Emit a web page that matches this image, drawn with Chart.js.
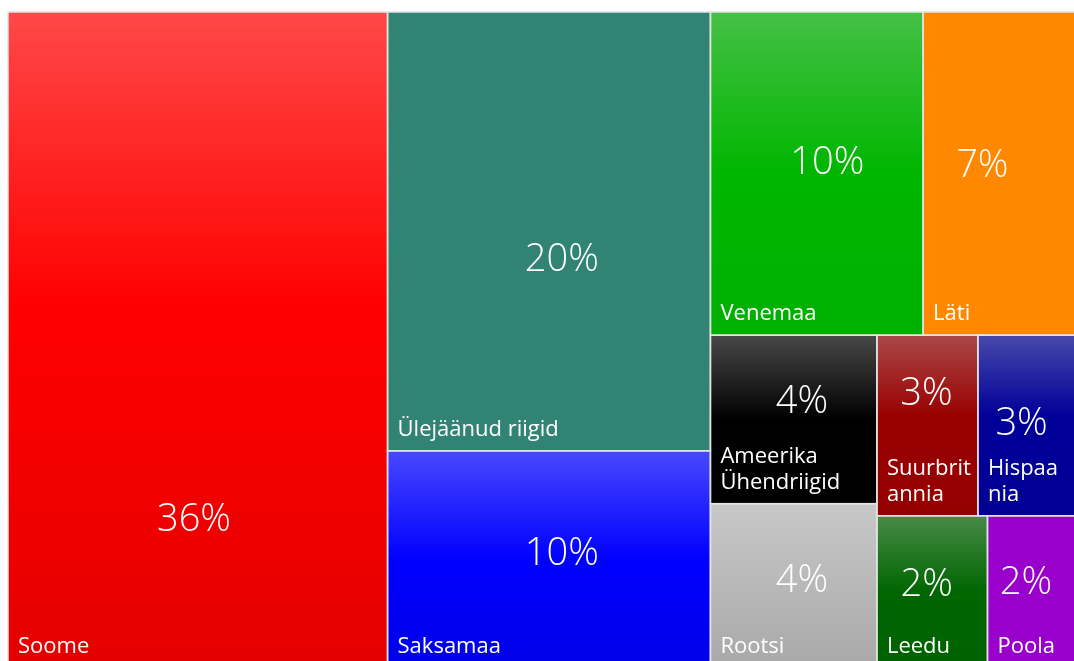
<!DOCTYPE html>
<html>
<head>
<meta charset="utf-8">
<script src="https://cdn.jsdelivr.net/npm/chart.js@4.4.1/dist/chart.umd.min.js"></script>
<style>
html,body{margin:0;padding:0;overflow:hidden;background:#ffffff;}
canvas{display:block;}
</style>
</head>
<body>
<canvas id="c" width="1075" height="668"></canvas>
<script>
// ---- data ----
const categories = ['Soome', 'Ülejäänud riigid', 'Saksamaa', 'Venemaa', 'Läti',
  'Ameerika Ühendriigid', 'Rootsi', 'Suurbritannia', 'Hispaania', 'Leedu', 'Poola'];
const shares = [35.5, 20.2, 10.0, 9.8, 7.0, 4.0, 3.9, 2.6, 2.5, 2.4, 1.9];

// ---- styles (gradient stops per cell: [offset, colour]) ----
const cellFills = [
  [[0, '#ff4848'], [0.45, '#ff0000'], [1, '#e40000']],
  [[0, '#318374'], [1, '#318374']],
  [[0, '#4848ff'], [0.5, '#0000ff'], [1, '#0000e8']],
  [[0, '#46c046'], [0.5, '#00b600'], [1, '#00b000']],
  [[0, '#ff8800'], [1, '#ff8800']],
  [[0, '#484848'], [0.5, '#000000'], [1, '#000000']],
  [[0, '#c8c8c8'], [1, '#a8a8a8']],
  [[0, '#aa4848'], [0.45, '#990000'], [1, '#940000']],
  [[0, '#4848aa'], [0.45, '#000099'], [1, '#000094']],
  [[0, '#478a47'], [0.5, '#006600'], [1, '#006200']],
  [[0, '#9900cc'], [1, '#9900cc']]
];
// where the percentage label sits inside its cell (fractions of width / height)
const pctAnchorX = [0.49, 0.54, 0.54, 0.55, 0.39, 0.55, 0.55, 0.49, 0.45, 0.45, 0.44];
const pctAnchorY = [0.77, 0.56, 0.465, 0.46, 0.47, 0.38, 0.455, 0.31, 0.48, 0.44, 0.425];

function squarify(vals, x0, y0, x1, y1, ratio) {
  const out = new Array(vals.length);
  const n = vals.length;
  let value = vals.reduce((a, b) => a + b, 0);
  let i0 = 0, i1 = 0;
  while (i0 < n) {
    const dx = x1 - x0, dy = y1 - y0;
    let sum = vals[i1++];
    let minV = sum, maxV = sum;
    const alpha = Math.max(dy / dx, dx / dy) / (value * ratio);
    let beta = sum * sum * alpha;
    let minRatio = Math.max(maxV / beta, beta / minV);
    for (; i1 < n; ++i1) {
      const v = vals[i1];
      sum += v;
      if (v < minV) minV = v;
      if (v > maxV) maxV = v;
      beta = sum * sum * alpha;
      const nr = Math.max(maxV / beta, beta / minV);
      if (nr > minRatio) { sum -= v; break; }
      minRatio = nr;
    }
    if (dx < dy) {
      const yk = i1 >= n ? y1 : y0 + dy * sum / value;
      let x = x0;
      for (let k = i0; k < i1; k++) {
        const xe = k === i1 - 1 ? x1 : x + dx * vals[k] / sum;
        out[k] = { x0: x, y0: y0, x1: xe, y1: yk };
        x = xe;
      }
      y0 = yk;
    } else {
      const xk = i1 >= n ? x1 : x0 + dx * sum / value;
      let y = y0;
      for (let k = i0; k < i1; k++) {
        const ye = k === i1 - 1 ? y1 : y + dy * vals[k] / sum;
        out[k] = { x0: x0, y0: y, x1: xk, y1: ye };
        y = ye;
      }
      x0 = xk;
    }
    value -= sum;
    i0 = i1;
  }
  return out;
}

function wrapText(ctx, text, maxW) {
  const words = text.split(' ');
  const lines = [];
  let cur = '';
  for (const w of words) {
    const t = cur ? cur + ' ' + w : w;
    if (ctx.measureText(t).width <= maxW) { cur = t; continue; }
    if (cur) { lines.push(cur); cur = ''; }
    if (ctx.measureText(w).width <= maxW) { cur = w; continue; }
    let part = '';
    for (const ch of w) {
      if (part && ctx.measureText(part + ch).width > maxW) { lines.push(part); part = ch; }
      else part += ch;
    }
    cur = part;
  }
  if (cur) lines.push(cur);
  return lines;
}

const treemapPlugin = {
  id: 'treemapCells',
  afterDatasetsDraw(chart) {
    const ds = chart.data.datasets[0];
    const vals = ds.tree;
    const total = vals.reduce((a, b) => a + b, 0);
    const xs = chart.scales.x, ys = chart.scales.y;
    const X0 = xs.getPixelForValue(0), X1 = xs.getPixelForValue(100);
    const Y0 = ys.getPixelForValue(100), Y1 = ys.getPixelForValue(0);
    const rects = squarify(vals, X0, Y0, X1, Y1, 1.1);
    const ctx = chart.ctx;
    ctx.save();
    rects.forEach((r, i) => {
      const w = r.x1 - r.x0, h = r.y1 - r.y0;
      const g = ctx.createLinearGradient(0, r.y0, 0, r.y1);
      cellFills[i].forEach(s => g.addColorStop(s[0], s[1]));
      ctx.fillStyle = g;
      ctx.fillRect(r.x0, r.y0, w, h);
    });
    ctx.strokeStyle = '#e4e4e4';
    ctx.lineWidth = 1.5;
    rects.forEach(r => {
      ctx.strokeRect(r.x0, r.y0, r.x1 - r.x0, r.y1 - r.y0);
    });
    ctx.fillStyle = '#ffffff';
    rects.forEach((r, i) => {
      const w = r.x1 - r.x0, h = r.y1 - r.y0;
      // percentage
      ctx.font = '300 38px "Open Sans"';
      ctx.textAlign = 'center';
      ctx.textBaseline = 'alphabetic';
      const pct = Math.round(vals[i] / total * 100) + '%';
      ctx.fillText(pct, r.x0 + pctAnchorX[i] * w, r.y0 + pctAnchorY[i] * h + 13.5);
      // name
      ctx.font = '400 22px "Open Sans"';
      ctx.textAlign = 'left';
      const lines = wrapText(ctx, categories[i], w - 14);
      const lh = 26;
      lines.forEach((ln, k) => {
        ctx.fillText(ln, r.x0 + 10, r.y1 - 15 - (lines.length - 1 - k) * lh);
      });
    });
    ctx.restore();
  }
};

new Chart(document.getElementById('c'), {
  type: 'scatter',
  data: {
    labels: categories,
    datasets: [{ label: 'Osakaal', data: [], tree: shares }]
  },
  options: {
    responsive: false,
    devicePixelRatio: 1,
    animation: false,
    layout: { padding: { left: 8, top: 12, right: 0, bottom: 0 } },
    plugins: { legend: { display: false }, tooltip: { enabled: false } },
    scales: {
      x: { type: 'linear', min: 0, max: 100, display: false },
      y: { type: 'linear', min: 0, max: 100, display: false }
    }
  },
  plugins: [treemapPlugin]
});
</script>
</body>
</html>
